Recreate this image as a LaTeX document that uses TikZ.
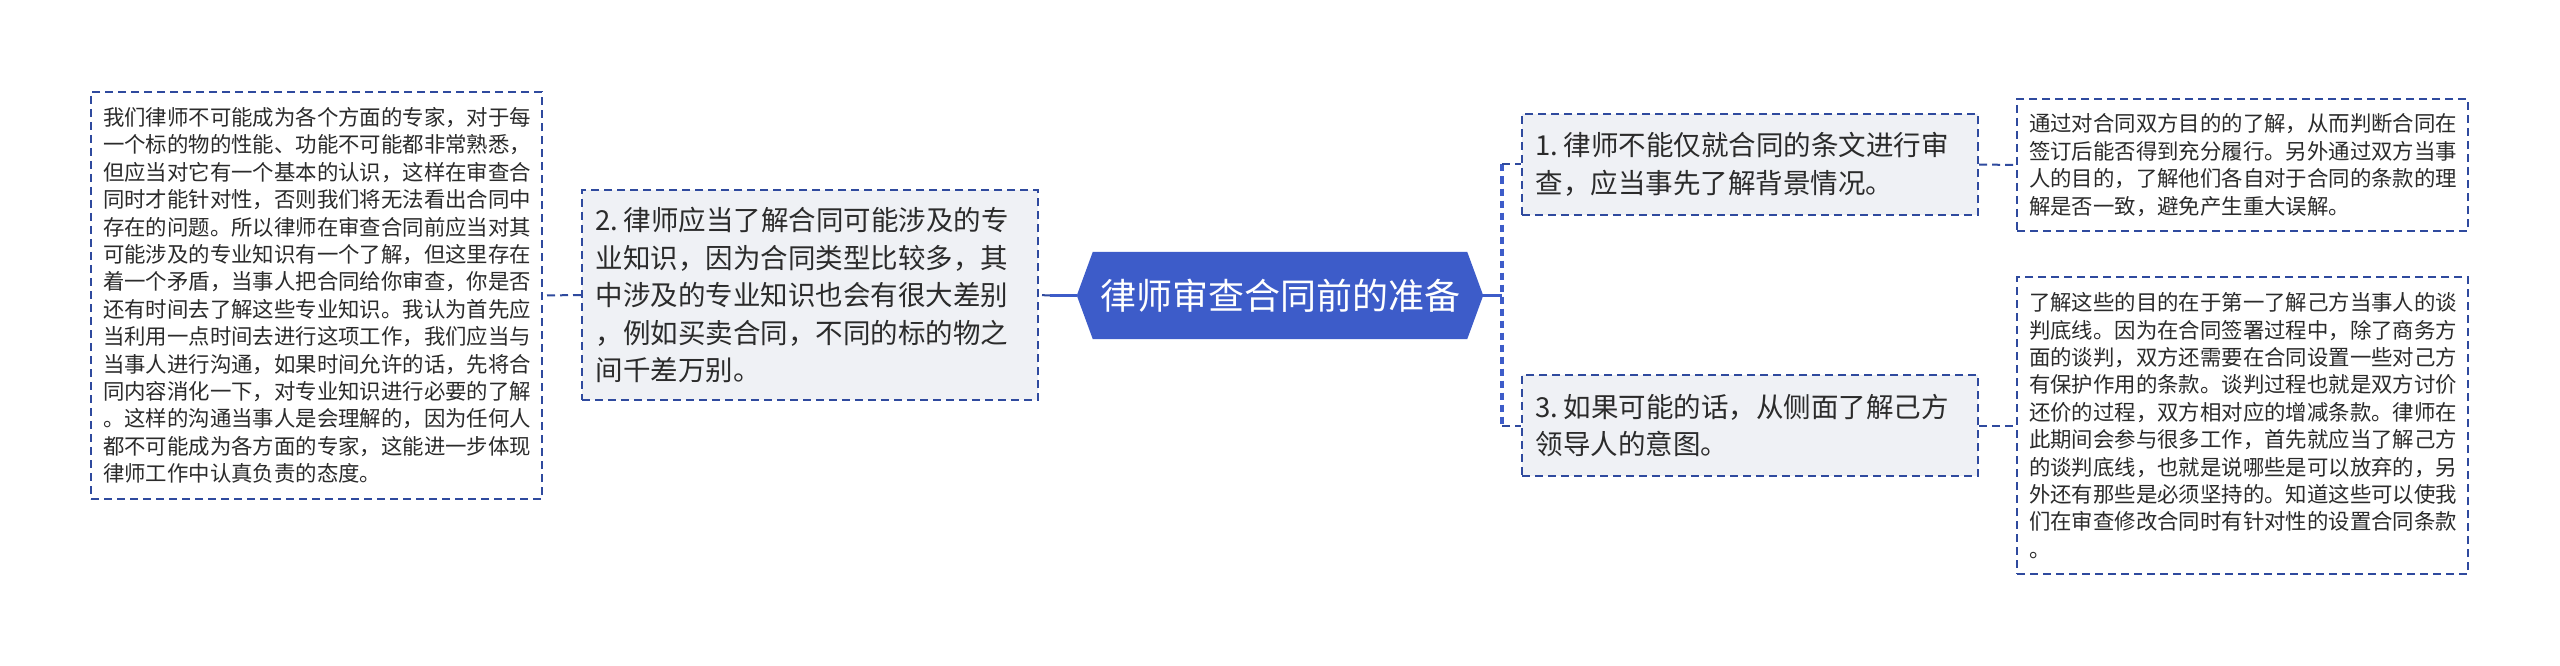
\documentclass[tikz,border=0pt]{standalone}
\usepackage{fontspec}
\setmainfont{Noto Sans CJK SC}
\usetikzlibrary{backgrounds}
\definecolor{mainblue}{HTML}{3D5CC9}
\definecolor{edgeblue}{HTML}{2F4A9E}
\definecolor{lightfill}{HTML}{EFF1F5}
\definecolor{txt}{HTML}{2B2B2B}
\begin{document}
\begin{tikzpicture}[x=1pt,y=-1pt,
  dashbox/.style={draw=edgeblue, dash pattern=on 8pt off 5pt, line width=2pt, text=txt, align=left, inner ysep=0pt},
  leafbox/.style={dashbox, fill=white, font=\fontsize{21.4}{27.4}\selectfont, inner xsep=12pt, text width=427pt},
  subbox/.style={dashbox, fill=lightfill, font=\fontsize{27.5}{37.5}\selectfont, text width=429pt, inner xsep=13.5pt},
  centerbox/.style={text=white, font=\fontsize{36}{40}\selectfont, minimum width=374pt, minimum height=87pt, inner sep=0pt},
  link/.style={draw=edgeblue, line width=2pt, dash pattern=on 8pt off 5pt},
  trunk/.style={draw=mainblue, line width=2.5pt}
]
\useasboundingbox (0,0) rectangle (2560,666);

\node[centerbox] (c) at (1280,295.5) {律师审查合同前的准备};

\node[leafbox, minimum height=407pt] (leafL) at (316.5,295.5) {我们律师不可能成为各个方面的专家，对于每\\一个标的物的性能、功能不可能都非常熟悉，\\但应当对它有一个基本的认识，这样在审查合\\同时才能针对性，否则我们将无法看出合同中\\存在的问题。所以律师在审查合同前应当对其\\可能涉及的专业知识有一个了解，但这里存在\\着一个矛盾，当事人把合同给你审查，你是否\\还有时间去了解这些专业知识。我认为首先应\\当利用一点时间去进行这项工作，我们应当与\\当事人进行沟通，如果时间允许的话，先将合\\同内容消化一下，对专业知识进行必要的了解\\。这样的沟通当事人是会理解的，因为任何人\\都不可能成为各方面的专家，这能进一步体现\\律师工作中认真负责的态度。};

\node[subbox, minimum height=210pt] (n2) at (810,295) {2.\hspace{0.2em}律师应当了解合同可能涉及的专\\业知识，因为合同类型比较多，其\\中涉及的专业知识也会有很大差别\\，例如买卖合同，不同的标的物之\\间千差万别。};

\node[subbox, minimum height=100pt] (n1) at (1750,164.5) {1.\hspace{0.2em}律师不能仅就合同的条文进行审\\查，应当事先了解背景情况。};

\node[subbox, minimum height=101pt] (n3) at (1750,425.5) {3.\hspace{0.2em}如果可能的话，从侧面了解己方\\领导人的意图。};

\node[leafbox, minimum height=132pt] (l1) at (2242.5,165) {通过对合同双方目的的了解，从而判断合同在\\签订后能否得到充分履行。另外通过双方当事\\人的目的，了解他们各自对于合同的条款的理\\解是否一致，避免产生重大误解。};

\node[leafbox, minimum height=297pt] (l2) at (2242.5,425.5) {了解这些的目的在于第一了解己方当事人的谈\\判底线。因为在合同签署过程中，除了商务方\\面的谈判，双方还需要在合同设置一些对己方\\有保护作用的条款。谈判过程也就是双方讨价\\还价的过程，双方相对应的增减条款。律师在\\此期间会参与很多工作，首先就应当了解己方\\的谈判底线，也就是说哪些是可以放弃的，另\\外还有那些是必须坚持的。知道这些可以使我\\们在审查修改合同时有针对性的设置合同条款\\。};

\coordinate (cR) at ([xshift=16pt]c.east);
\coordinate (cL) at ([xshift=-16pt]c.west);
\coordinate (jR) at (1502,295.5);
\coordinate (jL) at (1050,295.5);

\begin{scope}[on background layer]
\fill[white] (0,0) rectangle (2560,666);
\fill[mainblue] (c.north west) -- (c.north east) -- (cR) -- (c.south east) -- (c.south west) -- (cL) -- cycle;
\end{scope}

\draw[trunk] (cR) -- (jR);
\draw[draw=mainblue, line width=3.5pt, dash pattern=on 7pt off 5pt] (jR |- n1.west) -- (jR |- n3.west);
\draw[link] (jR |- n1.west) -- (n1.west);
\draw[link] (jR |- n3.west) -- (n3.west);
\draw[trunk] (cL) -- (jL);
\draw[link] (jL) -- (n2.east);
\draw[link] (n2.west) -- (leafL.east);
\draw[link] (n1.east) -- (l1.west);
\draw[link] (n3.east) -- (l2.west);
\end{tikzpicture}
\end{document}
